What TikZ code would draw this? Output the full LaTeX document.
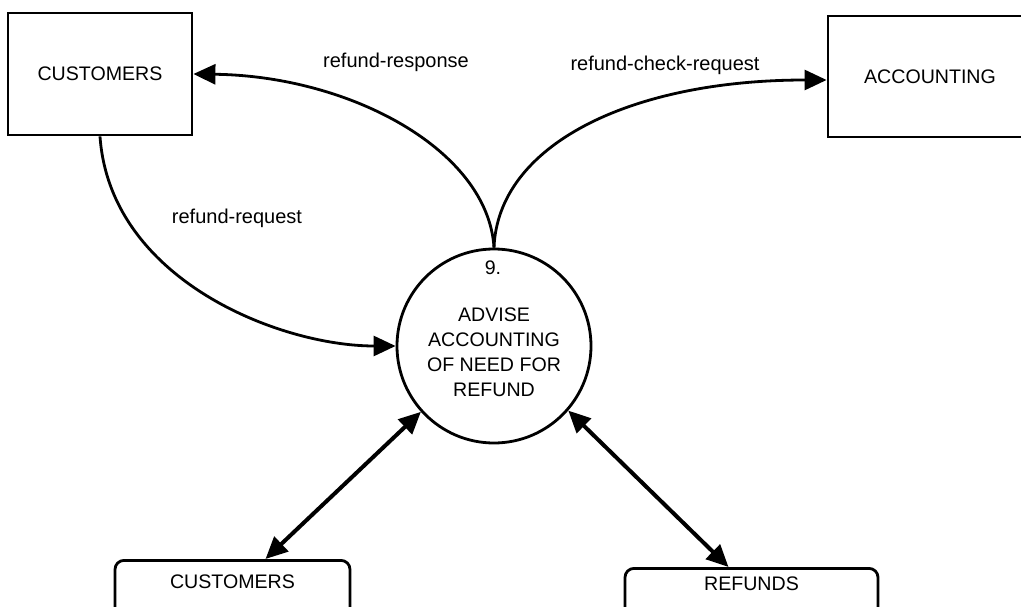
\documentclass[tikz,border=0pt]{standalone}
\usepackage{fontspec}
\setmainfont{Liberation Sans}
\usetikzlibrary{arrows.meta}
\begin{document}
\begin{tikzpicture}[x=1pt,y=-1pt,
  every node/.style={font=\fontsize{19.6}{25}\selectfont},
  entity/.style={draw, line width=2.8pt, rectangle, inner sep=0pt},
  store/.style={draw, line width=2.8pt, rectangle, rounded corners=9pt, inner xsep=0pt, inner ysep=0pt, anchor=north},
  proc/.style={draw, line width=2.8pt, circle, inner sep=0pt, minimum size=194pt},
  flowlbl/.style={inner sep=1pt, font=\fontsize{20}{25}\selectfont},
  flow/.style={line width=2.8pt, -{Triangle[length=22pt,width=20pt]}},
  dflow/.style={line width=4pt, {Triangle[length=22pt,width=20pt]}-{Triangle[length=22pt,width=20pt]}}
]
\useasboundingbox (0,0) rectangle (1021,607);
\clip (0,0) rectangle (1021,607);
\fill[white] (0,0) rectangle (1021,607);

% external entities
\node[entity, minimum width=184pt, minimum height=122pt] (cust) at (100,74) {CUSTOMERS};
\node[entity, minimum width=204pt, minimum height=121pt] (acct) at (930,76.5) {ACCOUNTING};

% process
\node[proc] (p9) at (494,346) {};
\node (p9num) at (493,268) {9.};
\node[align=center] (p9txt) at (494,352) {ADVISE\\ACCOUNTING\\OF NEED FOR\\REFUND};

% data stores
\node[store, minimum width=235pt, text height=28pt, text depth=45pt] (cstore) at (232.5,559) {CUSTOMERS};
\node[store, minimum width=253pt, text height=22pt, text depth=45pt] (rstore) at (751.5,567) {REFUNDS};

% flows
\draw[flow] (p9.north) .. controls (488,150) and (350,76) .. (cust.east);
\draw[flow] (p9.north) .. controls (498,145) and (630,80) .. ([yshift=-3.5pt]acct.west);
\draw[flow] (cust.south) .. controls (110,280) and (280,346) .. (p9.west);
\draw[dflow] ([xshift=33pt]cstore.north) -- (p9.222);
\draw[dflow] (p9.319) -- ([xshift=-23pt]rstore.north);

% labels
\node[flowlbl] (lresp) at (396,62) {refund-response};
\node[flowlbl] (lcheck) at (665,65) {refund-check-request};
\node[flowlbl] (lreq) at (237,218) {refund-request};
\end{tikzpicture}
\end{document}
